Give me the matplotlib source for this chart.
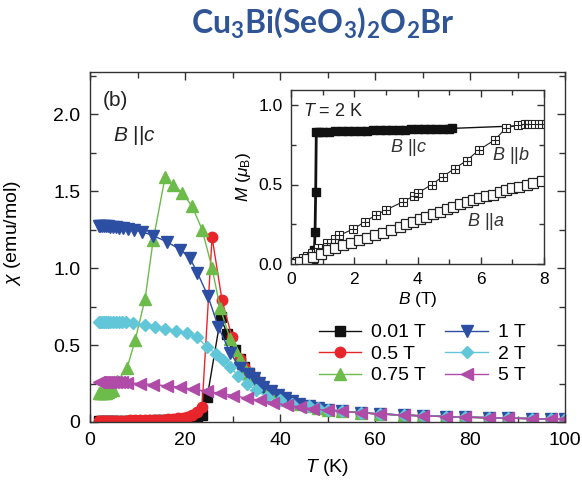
import matplotlib
matplotlib.use("Agg")
import matplotlib.pyplot as plt
from matplotlib.ticker import MultipleLocator, FormatStrFormatter

plt.rcParams['font.family'] = ['Liberation Sans', 'DejaVu Sans']
plt.rcParams['mathtext.fontset'] = 'custom'
plt.rcParams['mathtext.rm'] = 'Liberation Sans'
plt.rcParams['mathtext.it'] = 'Liberation Sans:italic'
plt.rcParams['mathtext.bf'] = 'Lato:bold'

# ---- susceptibility chi(T), B || c ----
# common paramagnetic tail shared by the low-field curves
tail_t = [30.5, 31.5, 32.5, 33.5, 34.5, 35.5, 36.5, 38, 39.5, 41, 42.5, 44, 46, 48, 50,
          53, 57, 61, 66, 70, 75, 79, 84, 88, 93, 97, 100]
tail_chi = [0.47, 0.41, 0.36, 0.32, 0.285, 0.255, 0.23, 0.2, 0.175, 0.155, 0.135, 0.12,
            0.105, 0.092, 0.08, 0.07, 0.06, 0.052, 0.045, 0.04, 0.035, 0.031, 0.028,
            0.025, 0.022, 0.02, 0.019]

t_001 = [1.8, 2.4, 3.0, 3.6, 4.2, 4.8, 5.5, 6.5, 7.5, 8.5, 9.5, 10.5, 11.5, 12.5, 13.5,
         14.5, 15.5, 16.5, 17.5, 18.5, 19.5, 20.5, 21.5, 22.5, 23.5, 24.7, 27.5, 28.9]
chi_001 = [0.006, 0.006, 0.006, 0.006, 0.006, 0.006, 0.006, 0.007, 0.007, 0.007, 0.008,
           0.008, 0.009, 0.009, 0.01, 0.011, 0.012, 0.013, 0.014, 0.016, 0.018, 0.021,
           0.025, 0.03, 0.045, 0.165, 0.68, 0.57]
tail_start_001 = 0

t_05 = [1.8, 2.4, 3.0, 3.6, 4.2, 4.8, 5.5, 6.5, 7.5, 8.5, 9.5, 10.5, 11.5, 12.5, 13.5,
        14.5, 15.5, 16.5, 17.5, 18.5, 19.5, 20.5, 21.5, 22.6, 23.6, 25.7, 27.8, 29.9]
chi_05 = [0.008, 0.008, 0.008, 0.008, 0.008, 0.008, 0.008, 0.009, 0.009, 0.01, 0.01,
          0.011, 0.012, 0.013, 0.014, 0.015, 0.016, 0.018, 0.02, 0.023, 0.027, 0.033,
          0.045, 0.065, 0.1, 1.2, 0.79, 0.55]
tail_start_05 = 1

t_075 = [1.8, 2.1, 2.4, 2.7, 3.0, 3.4, 3.8, 4.3, 4.8, 5.7, 7.8, 9.5, 11.6, 13.3, 15.8,
         17.5, 19.4, 21.5, 23.6, 25.7, 27.4, 29.5]
chi_075 = [0.19, 0.19, 0.19, 0.19, 0.19, 0.19, 0.195, 0.2, 0.21, 0.265, 0.35, 0.53, 0.8,
           1.18, 1.59, 1.54, 1.49, 1.40, 1.25, 1.0, 0.74, 0.54]
tail_start_075 = 0

t_1 = [1.8, 2.2, 2.6, 3.0, 3.4, 3.8, 4.3, 4.8, 5.4, 6.0, 7.0, 8.0, 9.2, 11.0, 13.3, 16.2,
       19.0, 21.0, 22.6, 24.8, 27.0, 29.5, 31.6, 33.2]
chi_1 = [1.27, 1.27, 1.27, 1.27, 1.27, 1.27, 1.268, 1.266, 1.264, 1.262, 1.258, 1.254,
         1.248, 1.235, 1.21, 1.17, 1.12, 1.065, 0.97, 0.82, 0.62, 0.45, 0.35, 0.31]
tail_start_1 = 4

t_2 = [1.8, 2.2, 2.6, 3.0, 3.4, 3.8, 4.3, 4.8, 5.4, 6.0, 6.8, 7.6, 9.0, 11.5, 13.7, 15.8,
       18.2, 20.4, 22.5, 24.6, 26.6, 28.0, 29.5, 31.2, 33.0, 35.0, 37.3, 40.0, 42.5]
chi_2 = [0.65, 0.65, 0.65, 0.65, 0.65, 0.65, 0.65, 0.65, 0.65, 0.649, 0.648, 0.647,
         0.643, 0.632, 0.62, 0.605, 0.59, 0.575, 0.55, 0.49, 0.44, 0.405, 0.36, 0.3,
         0.25, 0.205, 0.165, 0.14, 0.118]
tail_start_2 = 12

t_5 = [1.8, 2.2, 2.6, 3.0, 3.4, 3.8, 4.3, 4.8, 5.4, 6.0, 6.8, 7.8, 10.5, 13.3, 16.2, 19.0,
       21.7, 24.6, 27.4, 30.1, 33.0, 35.8, 38.5, 41.5, 44.2, 47.0, 50.0]
chi_5 = [0.26, 0.26, 0.26, 0.26, 0.26, 0.26, 0.26, 0.26, 0.259, 0.258, 0.257, 0.255,
         0.25, 0.243, 0.235, 0.225, 0.213, 0.2, 0.186, 0.172, 0.155, 0.14, 0.125, 0.11,
         0.097, 0.085, 0.075]
tail_start_5 = 15

field_labels = ['0.01 T', '0.5 T', '0.75 T', '1 T', '2 T', '5 T']

# ---- magnetization M(B) at T = 2 K ----
c_B = [0.05, 0.2, 0.35, 0.5, 0.6, 0.7, 0.74, 0.76, 0.78, 0.8, 0.9, 1.0, 1.2, 1.4, 1.6,
       1.8, 2.0, 2.2, 2.4, 2.6, 2.8, 3.0, 3.2, 3.4, 3.6, 3.8, 4.0, 4.2, 4.4, 4.6, 4.8,
       5.0, 5.1, 8.0]
c_M = [0.0, 0.0, 0.0, 0.0, 0.003, 0.008, 0.09, 0.2, 0.45, 0.83, 0.831, 0.832, 0.833,
       0.834, 0.835, 0.836, 0.837, 0.838, 0.839, 0.84, 0.841, 0.842, 0.843, 0.844,
       0.845, 0.846, 0.847, 0.848, 0.849, 0.85, 0.851, 0.852, 0.853, 0.875]

b_B = [0.02, 0.18, 0.37, 0.5, 0.65, 0.86, 1.13, 1.39, 1.52, 1.97, 2.33, 2.7, 3.0, 3.53,
       3.9, 4.0, 4.45, 4.8, 5.17, 5.55, 5.96, 6.44, 6.8, 7.17, 7.4, 7.5, 7.7, 7.95]
b_M = [0.01, 0.02, 0.04, 0.05, 0.07, 0.1, 0.134, 0.16, 0.18, 0.22, 0.265, 0.31, 0.34,
       0.39, 0.43, 0.445, 0.5, 0.55, 0.6, 0.65, 0.72, 0.78, 0.855, 0.875, 0.878, 0.88,
       0.88, 0.88]

a_B = [0.05, 0.3, 0.5, 0.7, 0.95, 1.17, 1.4, 1.65, 1.9, 2.15, 2.4, 2.65, 2.9, 3.15, 3.44,
       3.65, 3.86, 4.07, 4.28, 4.5, 4.7, 4.92, 5.13, 5.35, 5.55, 5.75, 5.96, 6.17, 6.38,
       6.6, 6.8, 7.0, 7.22, 7.45, 7.65, 7.95]
a_M = [0.0, 0.015, 0.03, 0.045, 0.065, 0.085, 0.1, 0.12, 0.135, 0.15, 0.165, 0.18, 0.195,
       0.215, 0.235, 0.25, 0.266, 0.28, 0.297, 0.315, 0.33, 0.345, 0.36, 0.375, 0.39,
       0.403, 0.415, 0.425, 0.434, 0.45, 0.465, 0.475, 0.486, 0.5, 0.51, 0.52]

fig = plt.figure(figsize=(5.82, 4.88), dpi=100)
ax = fig.add_axes([90 / 582, 1 - 422 / 488, 475 / 582, 350 / 488])

series = [
    (t_001, chi_001, tail_start_001, '#111111', 's', 6.5),
    (t_05, chi_05, tail_start_05, '#e8252a', 'o', 7.5),
    (t_075, chi_075, tail_start_075, '#6dbb4b', '^', 8),
    (t_1, chi_1, tail_start_1, '#2c4ea3', 'v', 8),
    (t_2, chi_2, tail_start_2, '#62c6d9', 'D', 6.5),
    (t_5, chi_5, tail_start_5, '#b04ca8', '<', 8),
]
for (t, chi, k, col, mk, ms), lab in zip(series, field_labels):
    tt = list(t) + tail_t[k:]
    cc = list(chi) + tail_chi[k:]
    ax.plot(tt, cc, color=col, lw=1.0, marker=mk, ms=ms, mec=col, mfc=col, label=lab)

ax.set_xlim(0, 100)
ax.set_ylim(0, 350 / 154)
ax.xaxis.set_major_locator(MultipleLocator(20))
ax.xaxis.set_minor_locator(MultipleLocator(10))
ax.yaxis.set_major_locator(MultipleLocator(0.5))
ax.yaxis.set_minor_locator(MultipleLocator(0.25))
ax.yaxis.set_major_formatter(plt.FuncFormatter(lambda v, p: '0' if v == 0 else f'{v:.1f}'))
ax.tick_params(which='both', direction='in', top=True, right=True, labelsize=14,
               color='#333333', width=1)
ax.tick_params(which='major', length=6, pad=7)
ax.tick_params(which='minor', length=4)
for s in ax.spines.values():
    s.set_color('#333333')
    s.set_linewidth(1.0)

ax.set_xlabel(r'$T$ (K)', fontsize=14, labelpad=6)
ax.set_ylabel(r'$\chi$ (emu/mol)', fontsize=14)
ax.yaxis.set_label_coords(-0.142, 0.54)

ax.text(2.7, 2.09, '(b)', fontsize=15, color='#222222', va='center')
ax.text(4.8, 1.86, r'$B$ ||$c$', fontsize=15, color='#222222', va='center')

leg = ax.legend(ncol=2, frameon=False, fontsize=14, loc='lower left',
                bbox_to_anchor=(0.465, 0.085), handlelength=2.2, handletextpad=0.5,
                columnspacing=1.0, labelspacing=0.2, borderaxespad=0)

# ---- inset ----
ins = fig.add_axes([291 / 582, 1 - 264 / 488, 253 / 582, 174 / 488])
ins.plot(c_B[:-1], c_M[:-1], color='#111111', lw=2.0, marker='s', ms=5.5,
         mfc='#111111', mec='#111111')
ins.plot(c_B[-2:], c_M[-2:], color='#111111', lw=1.0)
ins.plot(b_B, b_M, color='#222222', lw=0.8, marker='s', ms=6, mfc='white',
         mec='#222222', mew=0.8)
ins.plot(b_B, b_M, ls='none', marker='+', ms=6, mec='#222222', mew=0.8)
ins.plot(a_B, a_M, color='#222222', lw=0.8, marker='s', ms=7, mfc='white',
         mec='#222222', mew=0.9)
ins.set_xlim(0, 8)
ins.set_ylim(0, 174 / 159)
ins.xaxis.set_major_locator(MultipleLocator(2))
ins.xaxis.set_minor_locator(MultipleLocator(1))
ins.yaxis.set_major_locator(MultipleLocator(0.5))
ins.yaxis.set_minor_locator(MultipleLocator(0.25))
ins.yaxis.set_major_formatter(FormatStrFormatter('%.1f'))
ins.tick_params(which='both', direction='in', top=True, right=True, labelsize=12.5,
                color='#333333', width=1)
ins.tick_params(which='major', length=5, pad=6)
ins.tick_params(which='minor', length=3.5)
for s in ins.spines.values():
    s.set_color('#333333')
    s.set_linewidth(1.0)
ins.set_xlabel(r'$B$ (T)', fontsize=12.5, labelpad=2)
ins.set_ylabel(r'$M$ ($\mu_{\rm B}$)', fontsize=12.5, labelpad=4)
ins.text(0.38, 0.96, r'$T$ = 2 K', fontsize=13, va='center', color='#222222')
ins.text(3.13, 0.73, r'$B$ ||$c$', fontsize=13, va='center', color='#333333')
ins.text(6.35, 0.685, r'$B$ ||$b$', fontsize=13, va='center', color='#333333')
ins.text(5.55, 0.265, r'$B$ ||$a$', fontsize=13, va='center', color='#333333')

fig.text(323 / 582, 1 - 33 / 488, r'$\mathbf{Cu_3Bi(SeO_3)_2O_2Br}$', fontsize=23,
         color='#2f5597', ha='center', va='baseline')

fig.savefig('out.png', dpi=100)
